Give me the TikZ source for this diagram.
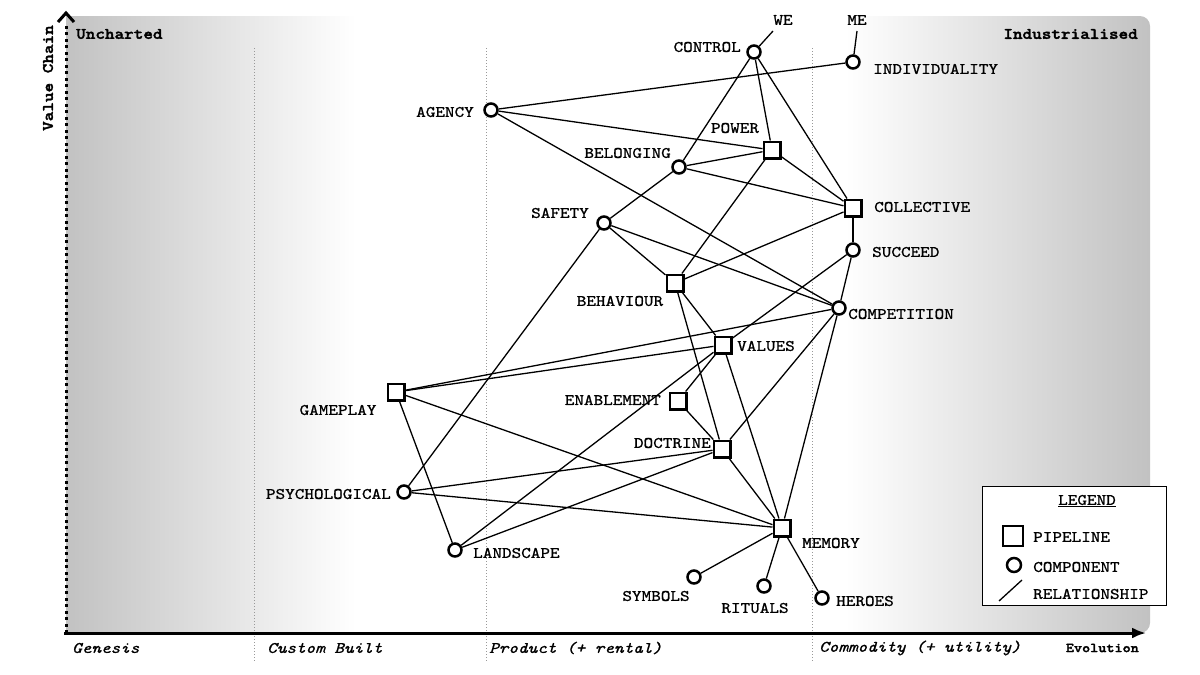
\documentclass[tikz,border=0pt]{standalone}
\usepackage{fontspec}
\setmainfont{lmmono10-regular.otf}[FakeStretch=1.143, ItalicFont=lmmono10-italic.otf, BoldFont=lmmonolt10-bold.otf, BoldItalicFont=lmmonolt10-boldoblique.otf, UprightFeatures={FakeBold=1}, ItalicFeatures={FakeBold=1}, BoldFeatures={FakeBold=2}]
\usetikzlibrary{arrows.meta}
\definecolor{bgg}{gray}{0.76}
\definecolor{gridc}{gray}{0.6}
\begin{document}
\begin{tikzpicture}[x=1pt,y=-1pt,
  pipeline/.style={draw, rectangle, line width=2.5pt, fill=white, minimum size=16.5pt, inner sep=0pt},
  component/.style={draw, circle, line width=2.5pt, fill=white, minimum size=13pt, inner sep=0pt},
  rel/.style={line width=1.3pt},
  lbl/.style={inner sep=0pt, font=\fontsize{16}{18}\selectfont},
  stage/.style={inner sep=0pt, font=\fontsize{16}{18}\selectfont\itshape, anchor=west},
  gridline/.style={gridc, line width=1pt, dash pattern=on 1pt off 2pt}]

\useasboundingbox (0,0) rectangle (1200,675);

% background
\shade[left color=bgg, right color=white] (66,16) rectangle (356,633);
\shade[left color=white, right color=bgg, rounded corners=10pt] (845,16) rectangle (1150,633);

% stage lines
\foreach \x in {254,486,812} \draw[gridline] (\x,48) -- (\x,662);

% axes
\draw[line width=3pt, dash pattern=on 3pt off 3.5pt] (66,633) -- (66,22);
\draw[line width=3pt, miter limit=10] (58,22) -- (66,13) -- (74,22);
\draw[line width=3pt, -{Latex[length=14pt,width=11pt]}] (64,633) -- (1146,633);

\node[lbl, font=\fontsize{16}{18}\selectfont\bfseries, rotate=90] (vc) at (48,78) {Value Chain};
\node[lbl, font=\fontsize{16}{18}\selectfont\bfseries, anchor=west] (unch) at (76,34) {Uncharted};
\node[lbl, font=\fontsize{16}{18}\selectfont\bfseries, anchor=east] (indu) at (1138,34) {Industrialised};
\node[lbl, font=\fontsize{13.5}{16}\selectfont\bfseries, anchor=east] (evo) at (1139,648) {Evolution};
\node[stage] (s1) at (72,648) {Genesis};
\node[stage] (s2) at (267,648) {Custom Built};
\node[stage] (s3) at (489,648) {Product (+ rental)};
\node[stage] (s4) at (819,648) {Commodity (+ utility)};

% nodes
\node[component] (control) at (754,52) {};
\node[component] (indiv) at (853,62) {};
\node[component] (agency) at (491,110) {};
\node[pipeline] (power) at (772,150) {};
\node[component] (belong) at (679,167) {};
\node[pipeline] (collect) at (853,208) {};
\node[component] (safety) at (604,223) {};
\node[component] (succeed) at (853,250) {};
\node[pipeline] (behav) at (675,283) {};
\node[component] (compet) at (839,308) {};
\node[pipeline] (values) at (723,345) {};
\node[pipeline] (game) at (396,392) {};
\node[pipeline] (enable) at (678,401) {};
\node[pipeline] (doctr) at (722,449) {};
\node[component] (psych) at (404,492) {};
\node[pipeline] (memory) at (782,528) {};
\node[component] (land) at (455,550) {};
\node[component] (symb) at (694,577) {};
\node[component] (ritual) at (764,586) {};
\node[component] (heroes) at (822,598) {};
\coordinate (we) at (773,31);
\coordinate (me) at (857,31);

% relationships
\draw[rel] (control) -- (we);
\draw[rel] (indiv) -- (me);
\draw[rel] (control) -- (belong);
\draw[rel] (control) -- (power);
\draw[rel] (control) -- (collect);
\draw[rel] (agency) -- (indiv);
\draw[rel] (agency) -- (power);
\draw[rel] (agency) -- (compet);
\draw[rel] (belong) -- (power);
\draw[rel] (belong) -- (collect);
\draw[rel] (belong) -- (safety);
\draw[rel] (power) -- (collect);
\draw[rel] (power) -- (behav);
\draw[rel] (collect) -- (succeed);
\draw[rel] (collect) -- (behav);
\draw[rel] (safety) -- (behav);
\draw[rel] (safety) -- (compet);
\draw[rel] (safety) -- (psych);
\draw[rel] (succeed) -- (compet);
\draw[rel] (succeed) -- (values);
\draw[rel] (behav) -- (values);
\draw[rel] (behav) -- (doctr);
\draw[rel] (compet) -- (game);
\draw[rel] (compet) -- (doctr);
\draw[rel] (compet) -- (memory);
\draw[rel] (values) -- (game);
\draw[rel] (values) -- (enable);
\draw[rel] (values) -- (land);
\draw[rel] (values) -- (memory);
\draw[rel] (enable) -- (doctr);
\draw[rel] (game) -- (memory);
\draw[rel] (game) -- (land);
\draw[rel] (psych) -- (doctr);
\draw[rel] (psych) -- (memory);
\draw[rel] (land) -- (doctr);
\draw[rel] (doctr) -- (memory);
\draw[rel] (memory) -- (symb);
\draw[rel] (memory) -- (ritual);
\draw[rel] (memory) -- (heroes);

% labels
\node[lbl] (lwe) at (783,20) {WE};
\node[lbl] (lme) at (857,20) {ME};
\node[lbl, anchor=east] (lcontrol) at (741,47) {CONTROL};
\node[lbl, anchor=west] (lindiv) at (873,69) {INDIVIDUALITY};
\node[lbl, anchor=east] (lagency) at (474,112) {AGENCY};
\node[lbl] (lpower) at (735,128) {POWER};
\node[lbl, anchor=east] (lbelong) at (671,153) {BELONGING};
\node[lbl, anchor=west] (lcollect) at (874,207) {COLLECTIVE};
\node[lbl, anchor=east] (lsafety) at (589,213) {SAFETY};
\node[lbl, anchor=west] (lsucceed) at (872,252) {SUCCEED};
\node[lbl] (lbehav) at (620,301) {BEHAVIOUR};
\node[lbl, anchor=west] (lcompet) at (848,314) {COMPETITION};
\node[lbl, anchor=west] (lvalues) at (737,346) {VALUES};
\node[lbl] (lgame) at (338,410) {GAMEPLAY};
\node[lbl, anchor=east] (lenable) at (661,400) {ENABLEMENT};
\node[lbl, anchor=east] (ldoctr) at (711,443) {DOCTRINE};
\node[lbl, anchor=east] (lpsych) at (391,494) {PSYCHOLOGICAL};
\node[lbl, anchor=west] (lmemory) at (802,543) {MEMORY};
\node[lbl, anchor=west] (lland) at (473,553) {LANDSCAPE};
\node[lbl] (lsymb) at (656,596) {SYMBOLS};
\node[lbl] (lritual) at (755,608) {RITUALS};
\node[lbl, anchor=west] (lheroes) at (836,601) {HEROES};

% legend
\node[draw, line width=1.3pt, fill=white, minimum width=184pt, minimum height=119pt, inner sep=0pt, anchor=north west] (legend) at (982,486) {};
\node[lbl] (legt) at (1087,501) {\underline{LEGEND}};
\node[pipeline, minimum size=20pt] (legp) at (1013,536) {};
\node[lbl, anchor=west] (legpt) at (1033,537) {PIPELINE};
\node[component, minimum size=14pt] (legc) at (1014,565) {};
\node[lbl, anchor=west] (legct) at (1033,567) {COMPONENT};
\coordinate (lra) at (999,601);
\coordinate (lrb) at (1022,580);
\draw[rel] (lra) -- (lrb);
\node[lbl, anchor=west] (legrt) at (1033,594) {RELATIONSHIP};

\end{tikzpicture}
\end{document}
